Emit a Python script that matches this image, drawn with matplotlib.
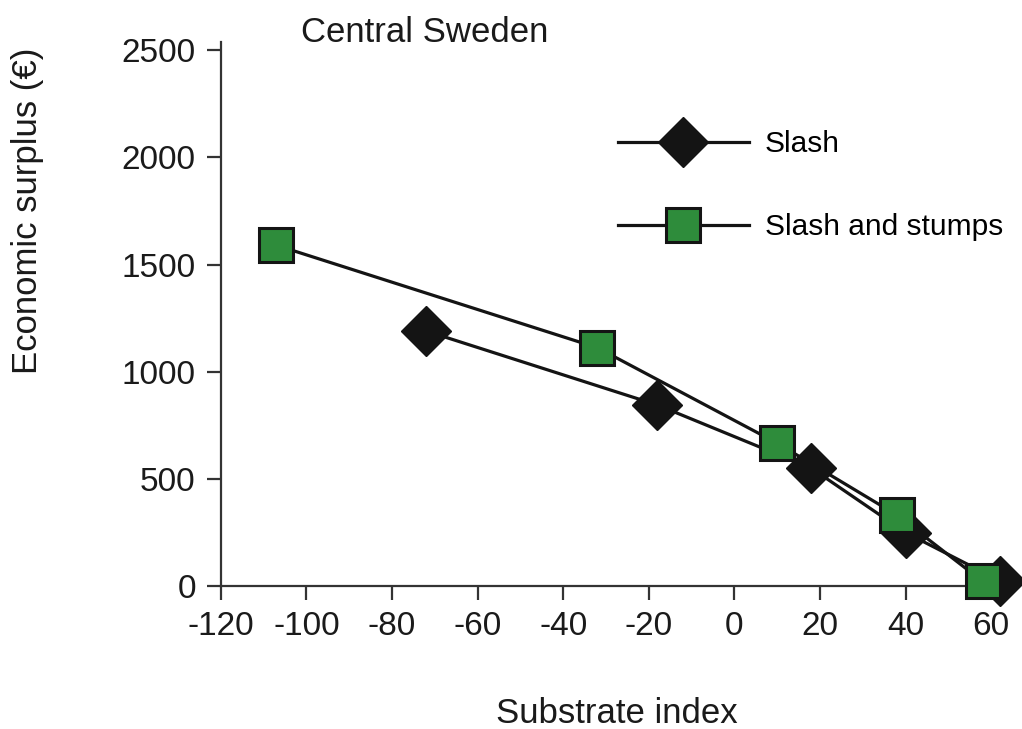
import matplotlib.pyplot as plt

plt.rcParams['font.family'] = ['Liberation Sans', 'DejaVu Sans']
plt.rcParams['axes.unicode_minus'] = False

# Data
slash_x = [-72, -18, 18, 40, 62]
slash_y = [1190, 845, 550, 250, 25]

stumps_x = [-107, -32, 10, 38, 58]
stumps_y = [1590, 1112, 667, 331, 22]

x_ticks = [-120, -100, -80, -60, -40, -20, 0, 20, 40, 60]
y_ticks = [0, 500, 1000, 1500, 2000, 2500]

green = '#2e8c3b'
ink = '#141414'
txt = '#1a1a1a'

fig = plt.figure(figsize=(10.22, 7.29), dpi=100)
ax = fig.add_axes([0.216, 0.196, 0.7706, 0.746])

ax.plot(slash_x, slash_y, color=ink, lw=2.3, marker='D', ms=25,
        mfc=ink, mec=ink, label='Slash', clip_on=False, zorder=3)
ax.plot(stumps_x, stumps_y, color=ink, lw=2.3, marker='s', ms=24,
        mfc=green, mec=ink, mew=2.2, label='Slash and stumps',
        clip_on=False, zorder=4)

ax.set_xlim(-120, 64)
ax.set_ylim(0, 2537)
ax.set_xticks(x_ticks)
ax.set_yticks(y_ticks)

for side in ['top', 'right']:
    ax.spines[side].set_visible(False)
for side in ['left', 'bottom']:
    ax.spines[side].set_linewidth(1.6)
    ax.spines[side].set_color('#333333')

ax.tick_params(direction='out', length=10, width=1.6, color='#333333',
               labelsize=24, pad=8, labelcolor=txt)

ax.set_xlabel('Substrate index', fontsize=25, color=txt, va='center')
ax.xaxis.set_label_coords(0.503, -0.235)
ax.set_ylabel('Economic surplus (€)', fontsize=25, color=txt, va='center')
ax.yaxis.set_label_coords(-0.245, 0.69)

ax.text(0.259, 1.018, 'Central Sweden', transform=ax.transAxes,
        fontsize=25, ha='center', va='center', color=txt)

ax.legend(loc='upper left', bbox_to_anchor=(0.489, 0.86), frameon=False,
          fontsize=21.5, handlelength=4.38, handletextpad=0.55,
          labelspacing=1.83, borderaxespad=0)

fig.savefig('out.png', dpi=100)
